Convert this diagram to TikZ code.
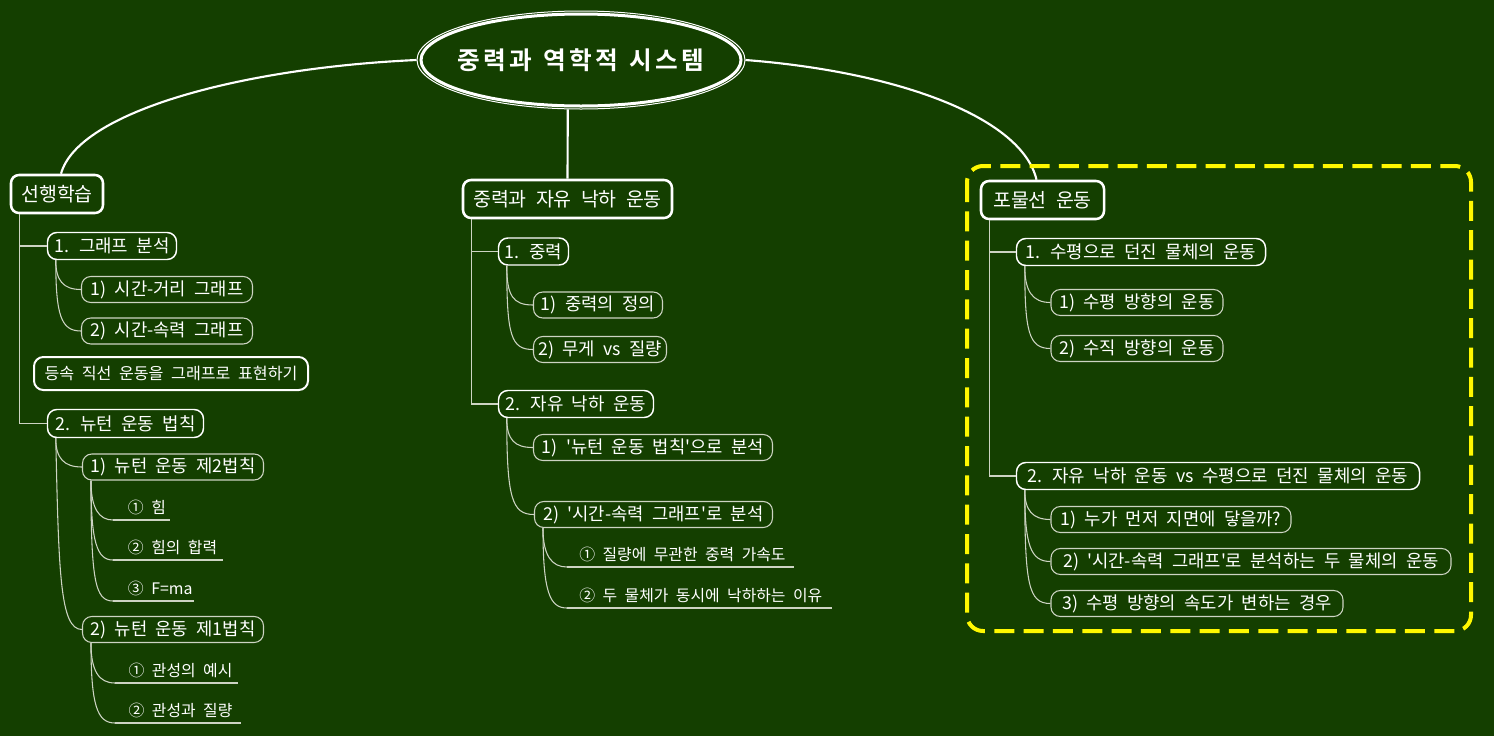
\documentclass[tikz,border=0pt]{standalone}
\usepackage{fontspec}
\setmainfont{Noto Sans CJK KR}[WordSpace=2.1]
\newfontfamily\titlefont{Noto Sans CJK KR Bold}[LetterSpace=14,WordSpace=1.2]
\usetikzlibrary{shapes.geometric,calc}
\definecolor{bg}{RGB}{20,63,0}
\definecolor{lgray}{RGB}{205,212,195}
\definecolor{ylw}{RGB}{255,248,0}
\newcommand{\q}{\textquotesingle}
\begin{document}
\begin{tikzpicture}[x=0.75pt,y=-0.75pt,
  mainbox/.style={draw=white, line width=1.9pt, rounded corners=6pt, text=white,
    font=\fontsize{14.6pt}{17pt}\selectfont, minimum height=28.5pt, inner sep=1pt},
  lvtwo/.style={draw=white, line width=1.1pt, rounded corners=7pt, text=white,
    font=\fontsize{13.4pt}{16pt}\selectfont, minimum height=20.25pt, inner sep=0.5pt},
  lvthree/.style={draw=lgray, line width=0.8pt, rounded corners=7pt, text=white,
    font=\fontsize{13.3pt}{16pt}\selectfont, minimum height=19.5pt, inner sep=0.5pt},
  leaf/.style={text=white, font=\fontsize{11.9pt}{14pt}\selectfont, anchor=south west,
    inner sep=0pt, inner ysep=5pt, text depth=0pt},
  trunk/.style={draw=white, line width=1.6pt},
  elbow/.style={draw=lgray, line width=0.8pt},
  curv/.style={draw=lgray, line width=0.8pt},
  uline/.style={draw=lgray, line width=1.1pt},
  ybox/.style={draw=ylw, line width=3pt, dash pattern=on 15pt off 7pt, rounded corners=12pt},
]
\fill[bg] (0,0) rectangle (1494,736);
\useasboundingbox (0,0) rectangle (1494,736);

% title
\node[ellipse, draw=white, line width=0.75pt, minimum width=246pt, minimum height=73.5pt,
  inner sep=0pt, text=white, font=\titlefont\fontsize{18.5pt}{21pt}\selectfont]
  (title) at (581,60) {\makebox[0pt]{중력과 역학적 시스템}};
\draw[white, line width=2.25pt] (title.center) ellipse [x radius=160, y radius=46];

% main nodes
\node[mainbox, minimum width=69pt] (sx) at (57,194) {선행학습};
\node[mainbox, minimum width=156.75pt] (mid) at (567.5,199) {중력과 자유 낙하 운동};
\node[mainbox, minimum width=92.25pt] (par) at (1042.5,200) {포물선 운동};

\draw[trunk] (title.west) .. controls (240,68) and (78,112) .. ($(sx.north)+(4,0)$);
\draw[trunk] (title.255) -- (mid.north);
\draw[trunk] (title.east) .. controls (900,72) and (1022,118) .. ($(par.north)+(-6,0)$);

% yellow frame
\draw[ybox] (967,166) rectangle (1471,631);

% ---------- left branch ----------
\node[lvtwo, minimum width=96.75pt] (A1) at (112,246) {1. 그래프 분석};
\node[lvtwo, line width=1.5pt, minimum width=205.5pt, minimum height=24.75pt,
  font=\fontsize{12.1pt}{14pt}\selectfont] (eq) at (171,373.5) {등속 직선 운동을 그래프로 표현하기};
\node[lvtwo, minimum width=117pt, minimum height=21pt] (A2) at (125.5,423.5) {2. 뉴턴 운동 법칙};
\node[lvthree, minimum width=128.25pt] (A1a) at (167,289.5) {1) 시간-거리 그래프};
\node[lvthree, minimum width=128.25pt] (A1b) at (167,331) {2) 시간-속력 그래프};
\node[lvthree, minimum width=135.75pt] (B1) at (173,467) {1) 뉴턴 운동 제2법칙};
\node[lvthree, minimum width=135.75pt] (B2) at (173,629.5) {2) 뉴턴 운동 제1법칙};

\draw[elbow] ($(sx.south west)+(10,0)$) |- (A1.west);
\draw[elbow] ($(sx.south west)+(10,0)$) |- (A2.west);
\draw[curv] ($(A1.south west)+(9,0)$) .. controls +(0,20) and +(-18,0) .. (A1a.west);
\draw[curv] ($(A1.south west)+(9,0)$) .. controls +(0,55) and +(-20,0) .. (A1b.west);
\draw[curv] ($(A2.south west)+(9,0)$) .. controls +(0,20) and +(-18,0) .. (B1.west);
\draw[curv] ($(A2.south west)+(9,0)$) .. controls +(3,135) and +(-22,0) .. (B2.west);

\node[leaf] (B1a) at (113,520) {\makebox[42pt][l]{\hspace*{11pt}① 힘}};
\node[leaf] (B1b) at (113,560) {\makebox[81.75pt][l]{\hspace*{11pt}② 힘의 합력}};
\node[leaf] (B1c) at (113,601) {\makebox[60pt][l]{\hspace*{11pt}③ F=ma}};
\node[leaf] (B2a) at (115,683) {\makebox[91.5pt][l]{\hspace*{10pt}① 관성의 예시}};
\node[leaf] (B2b) at (115,723) {\makebox[93.75pt][l]{\hspace*{10pt}② 관성과 질량}};
\foreach \n in {B1a,B1b,B1c,B2a,B2b} \draw[uline] (\n.south west) -- (\n.south east);
\draw[curv] ($(B1.south west)+(9,0)$) .. controls +(0,28) and +(-14,0) .. (B1a.south west);
\draw[curv] ($(B1.south west)+(9,0)$) .. controls +(0,62) and +(-16,0) .. (B1b.south west);
\draw[curv] ($(B1.south west)+(9,0)$) .. controls +(0,100) and +(-18,0) .. (B1c.south west);
\draw[curv] ($(B2.south west)+(9,0)$) .. controls +(0,28) and +(-16,0) .. (B2a.south west);
\draw[curv] ($(B2.south west)+(9,0)$) .. controls +(0,62) and +(-18,0) .. (B2b.south west);

% ---------- middle branch ----------
\node[lvtwo, minimum width=52.5pt] (C1) at (533.5,251.5) {1. 중력};
\node[lvtwo, minimum width=116.25pt] (C2) at (576,404) {2. 자유 낙하 운동};
\node[lvthree, minimum width=96.75pt] (C1a) at (598,305) {1) 중력의 정의};
\node[lvthree, minimum width=99.75pt] (C1b) at (600,349.5) {2) 무게 vs 질량};
\node[lvthree, minimum width=179.25pt] (C2a) at (653,447.5) {1) \q 뉴턴 운동 법칙\q 으로 분석};
\node[lvthree, minimum width=178.5pt] (C2b) at (653.5,514.5) {2) \q 시간-속력 그래프\q 로 분석};

\draw[elbow] ($(mid.south west)+(10,0)$) |- (C1.west);
\draw[elbow] ($(mid.south west)+(10,0)$) |- (C2.west);
\draw[curv] ($(C1.south west)+(9,0)$) .. controls +(0,30) and +(-20,0) .. (C1a.west);
\draw[curv] ($(C1.south west)+(9,0)$) .. controls +(0,70) and +(-22,0) .. (C1b.west);
\draw[curv] ($(C2.south west)+(9,0)$) .. controls +(0,22) and +(-18,0) .. (C2a.west);
\draw[curv] ($(C2.south west)+(9,0)$) .. controls +(0,80) and +(-22,0) .. (C2b.west);

\node[leaf] (C2ba) at (567,567) {\makebox[169.5pt][l]{\hspace*{9pt}① 질량에 무관한 중력 가속도}};
\node[leaf] (C2bb) at (567,608) {\makebox[198pt][l]{\hspace*{9pt}② 두 물체가 동시에 낙하하는 이유}};
\foreach \n in {C2ba,C2bb} \draw[uline] (\n.south west) -- (\n.south east);
\draw[curv] ($(C2b.south west)+(9,0)$) .. controls +(0,28) and +(-15,0) .. (C2ba.south west);
\draw[curv] ($(C2b.south west)+(9,0)$) .. controls +(0,65) and +(-17,0) .. (C2bb.south west);

% ---------- right branch ----------
\node[lvtwo, minimum width=186.75pt] (D1) at (1141,252) {1. 수평으로 던진 물체의 운동};
\node[lvtwo, minimum width=302.25pt] (D2) at (1218,476) {2. 자유 낙하 운동 vs 수평으로 던진 물체의 운동};
\node[lvthree, minimum width=129pt] (D1a) at (1137,302.5) {1) 수평 방향의 운동};
\node[lvthree, minimum width=129pt] (D1b) at (1137,348.5) {2) 수직 방향의 운동};
\node[lvthree, minimum width=180pt] (D2a) at (1171,519.5) {1) 누가 먼저 지면에 닿을까?};
\node[lvthree, minimum width=300pt] (D2b) at (1251,561.5) {2) \q 시간-속력 그래프\q 로 분석하는 두 물체의 운동};
\node[lvthree, minimum width=219pt] (D2c) at (1197,603.5) {3) 수평 방향의 속도가 변하는 경우};

\draw[elbow] ($(par.south west)+(10,0)$) |- (D1.west);
\draw[elbow] ($(par.south west)+(10,0)$) |- (D2.west);
\draw[curv] ($(D1.south west)+(9,0)$) .. controls +(0,25) and +(-18,0) .. (D1a.west);
\draw[curv] ($(D1.south west)+(9,0)$) .. controls +(0,65) and +(-22,0) .. (D1b.west);
\draw[curv] ($(D2.south west)+(9,0)$) .. controls +(0,20) and +(-18,0) .. (D2a.west);
\draw[curv] ($(D2.south west)+(9,0)$) .. controls +(0,55) and +(-20,0) .. (D2b.west);
\draw[curv] ($(D2.south west)+(9,0)$) .. controls +(0,95) and +(-22,0) .. (D2c.west);
\end{tikzpicture}
\end{document}
